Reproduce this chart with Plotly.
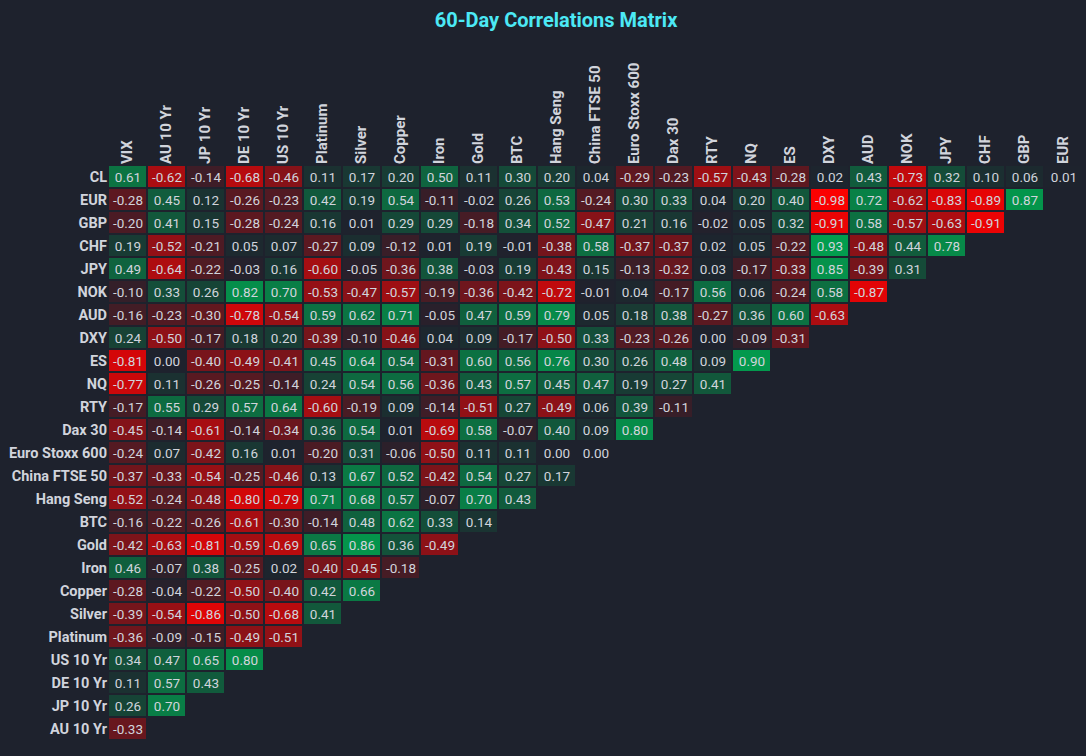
"""
Matriz de correlaciones a 60 días, dibujada como mapa de calor triangular.
"""

import plotly.graph_objects as go

filas = [
    "CL", "EUR", "GBP", "CHF", "JPY", "NOK", "AUD", "DXY", "ES", "NQ", "RTY",
    "Dax 30", "Euro Stoxx 600", "China FTSE 50", "Hang Seng", "BTC", "Gold",
    "Iron", "Copper", "Silver", "Platinum", "US 10 Yr", "DE 10 Yr", "JP 10 Yr",
    "AU 10 Yr",
]

columnas = [
    "VIX", "AU 10 Yr", "JP 10 Yr", "DE 10 Yr", "US 10 Yr", "Platinum", "Silver",
    "Copper", "Iron", "Gold", "BTC", "Hang Seng", "China FTSE 50",
    "Euro Stoxx 600", "Dax 30", "RTY", "NQ", "ES", "DXY", "AUD", "NOK", "JPY",
    "CHF", "GBP", "EUR",
]

# Cada fila tiene un valor menos que la anterior (triángulo).
cl = [0.61, -0.62, -0.14, -0.68, -0.46, 0.11, 0.17, 0.20, 0.50, 0.11, 0.30, 0.20,
      0.04, -0.29, -0.23, -0.57, -0.43, -0.28, 0.02, 0.43, -0.73, 0.32, 0.10, 0.06, 0.01]
eur = [-0.28, 0.45, 0.12, -0.26, -0.23, 0.42, 0.19, 0.54, -0.11, -0.02, 0.26, 0.53,
       -0.24, 0.30, 0.33, 0.04, 0.20, 0.40, -0.98, 0.72, -0.62, -0.83, -0.89, 0.87]
gbp = [-0.20, 0.41, 0.15, -0.28, -0.24, 0.16, 0.01, 0.29, 0.29, -0.18, 0.34, 0.52,
       -0.47, 0.21, 0.16, -0.02, 0.05, 0.32, -0.91, 0.58, -0.57, -0.63, -0.91]
chf = [0.19, -0.52, -0.21, 0.05, 0.07, -0.27, 0.09, -0.12, 0.01, 0.19, -0.01, -0.38,
       0.58, -0.37, -0.37, 0.02, 0.05, -0.22, 0.93, -0.48, 0.44, 0.78]
jpy = [0.49, -0.64, -0.22, -0.03, 0.16, -0.60, -0.05, -0.36, 0.38, -0.03, 0.19, -0.43,
       0.15, -0.13, -0.32, 0.03, -0.17, -0.33, 0.85, -0.39, 0.31]
nok = [-0.10, 0.33, 0.26, 0.82, 0.70, -0.53, -0.47, -0.57, -0.19, -0.36, -0.42, -0.72,
       -0.01, 0.04, -0.17, 0.56, 0.06, -0.24, 0.58, -0.87]
aud = [-0.16, -0.23, -0.30, -0.78, -0.54, 0.59, 0.62, 0.71, -0.05, 0.47, 0.59, 0.79,
       0.05, 0.18, 0.38, -0.27, 0.36, 0.60, -0.63]
dxy = [0.24, -0.50, -0.17, 0.18, 0.20, -0.39, -0.10, -0.46, 0.04, 0.09, -0.17, -0.50,
       0.33, -0.23, -0.26, 0.00, -0.09, -0.31]
es = [-0.81, 0.00, -0.40, -0.49, -0.41, 0.45, 0.64, 0.54, -0.31, 0.60, 0.56, 0.76,
      0.30, 0.26, 0.48, 0.09, 0.90]
nq = [-0.77, 0.11, -0.26, -0.25, -0.14, 0.24, 0.54, 0.56, -0.36, 0.43, 0.57, 0.45,
      0.47, 0.19, 0.27, 0.41]
rty = [-0.17, 0.55, 0.29, 0.57, 0.64, -0.60, -0.19, 0.09, -0.14, -0.51, 0.27, -0.49,
       0.06, 0.39, -0.11]
dax = [-0.45, -0.14, -0.61, -0.14, -0.34, 0.36, 0.54, 0.01, -0.69, 0.58, -0.07, 0.40,
       0.09, 0.80]
stoxx = [-0.24, 0.07, -0.42, 0.16, 0.01, -0.20, 0.31, -0.06, -0.50, 0.11, 0.11, 0.00,
         0.00]
ftse = [-0.37, -0.33, -0.54, -0.25, -0.46, 0.13, 0.67, 0.52, -0.42, 0.54, 0.27, 0.17]
hang_seng = [-0.52, -0.24, -0.48, -0.80, -0.79, 0.71, 0.68, 0.57, -0.07, 0.70, 0.43]
btc = [-0.16, -0.22, -0.26, -0.61, -0.30, -0.14, 0.48, 0.62, 0.33, 0.14]
gold = [-0.42, -0.63, -0.81, -0.59, -0.69, 0.65, 0.86, 0.36, -0.49]
iron = [0.46, -0.07, 0.38, -0.25, 0.02, -0.40, -0.45, -0.18]
copper = [-0.28, -0.04, -0.22, -0.50, -0.40, 0.42, 0.66]
silver = [-0.39, -0.54, -0.86, -0.50, -0.68, 0.41]
platinum = [-0.36, -0.09, -0.15, -0.49, -0.51]
us10 = [0.34, 0.47, 0.65, 0.80]
de10 = [0.11, 0.57, 0.43]
jp10 = [0.26, 0.70]
au10 = [-0.33]


def crear_matriz():
    """
    Arma el mapa de calor con las celdas vacías en la esquina superior derecha.
    """

    datos = [cl, eur, gbp, chf, jpy, nok, aud, dxy, es, nq, rty, dax, stoxx, ftse,
             hang_seng, btc, gold, iron, copper, silver, platinum, us10, de10, jp10, au10]

    n = len(columnas)
    z = [fila + [None] * (n - len(fila)) for fila in datos]
    textos = [[f"{v:.2f}" if v is not None else "" for v in fila] for fila in z]

    fondo = "#1e222d"

    fig = go.Figure()

    fig.add_trace(
        go.Heatmap(
            x=columnas,
            y=filas,
            z=z,
            text=textos,
            texttemplate="%{text}",
            textfont={"color": "#d1d4dc", "size": 13.5, "family": "Roboto"},
            zmin=-1,
            zmax=1,
            colorscale=[[0, "#ff0000"], [0.5, fondo], [1, "#00a650"]],
            xgap=2,
            ygap=2,
            showscale=False,
            hoverongaps=False,
        )
    )

    fig.update_xaxes(
        side="top",
        tickangle=-90,
        tickfont={"size": 15, "color": "#d1d4dc", "family": "Roboto", "weight": "bold"},
        showgrid=False,
        zeroline=False,
        showline=False,
        ticks="",
    )

    fig.update_yaxes(
        autorange="reversed",
        tickfont={"size": 14.5, "color": "#d1d4dc", "family": "Roboto", "weight": "bold"},
        showgrid=False,
        zeroline=False,
        showline=False,
        ticks="",
    )

    fig.update_layout(
        width=1086,
        height=756,
        title_text="<b>60-Day Correlations Matrix</b>",
        title_x=0.512,
        title_y=0.9735,
        title_xanchor="center",
        title_yanchor="middle",
        title_font_size=20,
        title_font_color="#4ce9f5",
        title_font_family="Roboto",
        font_family="Roboto",
        margin_t=165,
        margin_l=108,
        margin_r=3,
        margin_b=16,
        plot_bgcolor=fondo,
        paper_bgcolor=fondo,
    )

    # Quitamos el margen del body para que la figura ocupe toda la ventana.
    fig.write_html(
        "out.html",
        config={"displayModeBar": False},
        post_script="document.body.style.margin='0';",
    )


if __name__ == "__main__":

    crear_matriz()
